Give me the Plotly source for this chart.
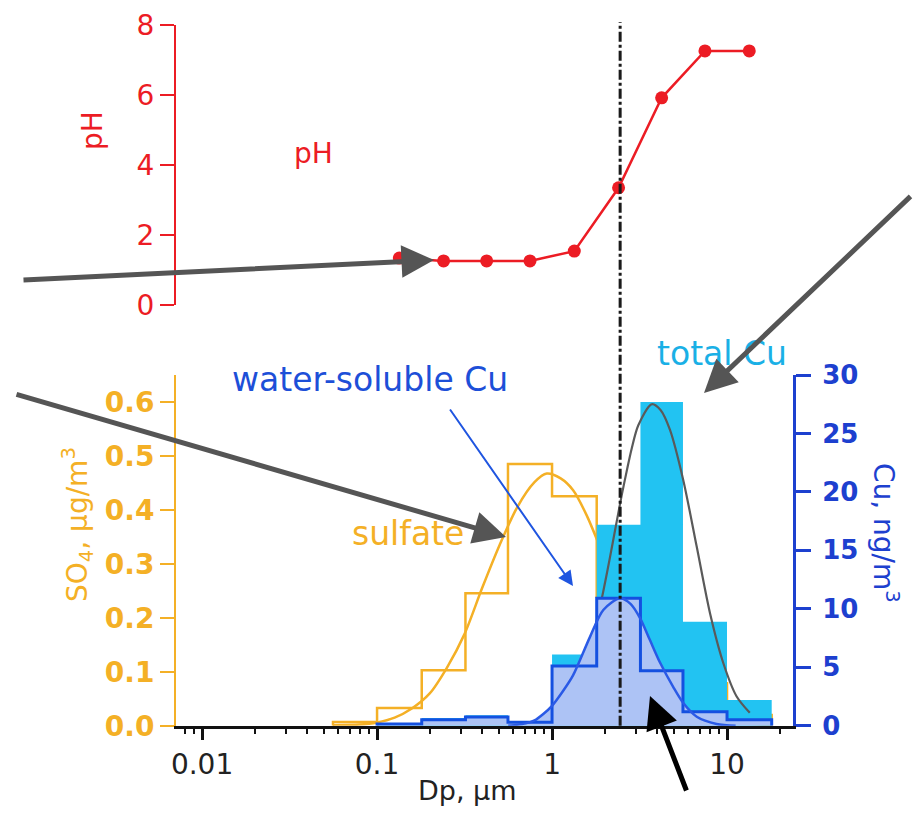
import plotly.graph_objects as go

W, H = 915, 813
FONT = "DejaVu Sans"

# ---------------- data ----------------
ph_dp = [0.134, 0.24, 0.423, 0.748, 1.34, 2.4, 4.23, 7.48, 13.4]
ph_val = [1.34, 1.26, 1.26, 1.26, 1.54, 3.35, 5.92, 7.26, 7.26]

stage_edges = [0.056, 0.1, 0.18, 0.32, 0.56, 1.0, 1.8, 3.2, 5.6, 10, 18]
sulfate = [0.007, 0.033, 0.103, 0.246, 0.486, 0.426, 0.24, 0.15, 0.079, 0.02]
total_cu = [0.0, 0.15, 0.65, 0.9, 0.35, 6.1, 17.2, 27.7, 8.9, 2.2]
ws_cu = [0.0, 0.15, 0.5, 0.75, 0.3, 5.1, 10.9, 4.7, 1.2, 0.5]

sulf_fit_dp = [0.056, 0.079, 0.1, 0.126, 0.158, 0.2, 0.251, 0.316, 0.398, 0.501,
               0.631, 0.794, 0.933, 1.12, 1.32, 1.58, 2.0, 2.51, 3.16, 3.98,
               5.01, 6.31, 7.94, 10.0, 12.6, 17.8]
sulf_fit = [0.001, 0.002, 0.006, 0.015, 0.032, 0.06, 0.108, 0.17, 0.255, 0.335,
            0.405, 0.452, 0.468, 0.459, 0.437, 0.39, 0.31, 0.233, 0.158, 0.101,
            0.06, 0.033, 0.017, 0.008, 0.004, 0.001]

ws_fit_dp = [0.562, 0.708, 0.794, 0.891, 1.0, 1.148, 1.318, 1.648, 1.963, 2.449,
             2.818, 3.184, 3.631, 4.14, 4.932, 5.623, 6.714, 8.71, 11.2]
ws_fit = [0.0, 0.2, 0.45, 1.0, 1.7, 2.9, 4.3, 7.6, 9.9, 10.9,
          10.4, 9.2, 7.3, 5.4, 3.3, 1.94, 0.77, 0.15, 0.0]

tot_fit_dp = [1.0, 1.259, 1.585, 1.841, 1.963, 2.143, 2.344, 2.5, 2.673, 2.851,
              3.112, 3.715, 4.169, 4.721, 5.623, 6.714, 8.0, 9.55, 11.35, 13.49]
tot_fit = [0.7, 2.3, 5.8, 9.6, 11.5, 14.4, 17.5, 19.7, 21.8, 23.7,
           25.7, 27.5, 27.0, 25.3, 21.0, 15.3, 9.6, 5.3, 2.5, 1.1]

split_dp = 2.45

x_tickvals = [0.01, 0.1, 1, 10]
x_ticktext = ["0.01", "0.1", "1", "10"]

# ---------------- colours ----------------
RED = "#ec1c24"
ORANGE = "#f4b026"
BLUE_AX = "#1d40cf"
BLUE = "#1450e0"
CYAN = "#22c3f2"
LIGHT = "#adc3f5"
GREY = "#5a5a5a"
CYAN_TXT = "#1ab0e6"


def steps(edges, vals):
    xs = [edges[0]] + list(edges)
    ys = [0] + list(vals) + [0]
    return xs, ys


fig = go.Figure()

# total Cu bars (filled steps)
sx, sy = steps(stage_edges[1:], total_cu[1:])
fig.add_trace(go.Scatter(x=sx, y=sy, mode="lines", line=dict(width=0, shape="hv"),
                         fill="tozeroy", fillcolor=CYAN, yaxis="y2", xaxis="x",
                         hoverinfo="skip"))
# sulfate steps
sx, sy = steps(stage_edges, sulfate)
fig.add_trace(go.Scatter(x=sx, y=sy, mode="lines", line=dict(color=ORANGE, width=2.5, shape="hv"),
                         xaxis="x", yaxis="y"))
# sulfate fit
fig.add_trace(go.Scatter(x=sulf_fit_dp, y=sulf_fit, mode="lines",
                         line=dict(color=ORANGE, width=2.5, shape="spline", smoothing=0.8),
                         xaxis="x", yaxis="y"))
# total Cu fit
fig.add_trace(go.Scatter(x=tot_fit_dp, y=tot_fit, mode="lines",
                         line=dict(color=GREY, width=2.2, shape="spline", smoothing=0.8),
                         xaxis="x", yaxis="y2"))
# water-soluble fills
sx, sy = steps(stage_edges[1:], ws_cu[1:])
fig.add_trace(go.Scatter(x=sx, y=sy, mode="lines", line=dict(width=0, shape="hv"),
                         fill="tozeroy", fillcolor=LIGHT, xaxis="x", yaxis="y2"))
fig.add_trace(go.Scatter(x=ws_fit_dp, y=ws_fit, mode="lines",
                         line=dict(width=0, shape="spline", smoothing=0.8),
                         fill="tozeroy", fillcolor=LIGHT, xaxis="x", yaxis="y2"))
# water-soluble steps
fig.add_trace(go.Scatter(x=sx, y=sy, mode="lines", line=dict(color=BLUE, width=3, shape="hv"),
                         xaxis="x", yaxis="y2"))
# water-soluble fit
fig.add_trace(go.Scatter(x=ws_fit_dp, y=ws_fit, mode="lines",
                         line=dict(color="#2a5ae6", width=2.5, shape="spline", smoothing=0.8),
                         xaxis="x", yaxis="y2"))
# pH
fig.add_trace(go.Scatter(x=ph_dp, y=ph_val, mode="lines+markers",
                         line=dict(color=RED, width=2.5),
                         marker=dict(color=RED, size=13),
                         xaxis="x2", yaxis="y3", cliponaxis=False))

xdom = [176 / W, 793 / W]
bot = [1 - 725.7 / H, 1 - 375 / H]
top = [1 - 305 / H, 1 - 25 / H]

minor_vals = [m * 10 ** e for e in range(-3, 2) for m in range(2, 10)]

fig.update_layout(
    width=W, height=H, margin=dict(l=0, r=0, t=0, b=0),
    paper_bgcolor="white", plot_bgcolor="white", showlegend=False,
    font=dict(family=FONT),
    xaxis=dict(domain=xdom, type="log", range=[-2.149, 1.377], anchor="y",
               showline=True, linecolor="#111", linewidth=2.5,
               ticks="outside", ticklen=12, tickwidth=2.5, tickcolor="#111",
               tickvals=x_tickvals, ticktext=x_ticktext,
               tickfont=dict(size=28, color="#222", family=FONT),
               minor=dict(tickmode="array", tickvals=minor_vals, ticks="outside",
                          ticklen=6, tickwidth=2, tickcolor="#111"),
               showgrid=False, zeroline=False, automargin=False),
    yaxis=dict(domain=bot, range=[0, 0.651], anchor="x",
               showline=True, linecolor=ORANGE, linewidth=2,
               ticks="outside", ticklen=14, tickwidth=2, tickcolor=ORANGE,
               tickvals=[0, 0.1, 0.2, 0.3, 0.4, 0.5, 0.6], tickformat=".1f",
               tickfont=dict(size=28, color=ORANGE, family=FONT, weight="bold"),
               showgrid=False, zeroline=False, automargin=False),
    yaxis2=dict(range=[0, 30], overlaying="y", side="right", anchor="x",
                showline=True, linecolor=BLUE_AX, linewidth=3,
                ticks="outside", ticklen=15, tickwidth=2.5, tickcolor=BLUE_AX,
                tickvals=[0, 5, 10, 15, 20, 25, 30], ticklabelstandoff=6,
                tickfont=dict(size=26, color=BLUE_AX, family=FONT, weight="bold"),
                showgrid=False, zeroline=False, automargin=False),
    xaxis2=dict(domain=xdom, type="log", matches="x", anchor="y3", visible=False),
    yaxis3=dict(domain=top, range=[0, 8], anchor="x2",
                showline=True, linecolor=RED, linewidth=2,
                ticks="outside", ticklen=14, tickwidth=2, tickcolor=RED,
                tickvals=[0, 2, 4, 6, 8],
                tickfont=dict(size=28, color=RED, family=FONT),
                showgrid=False, zeroline=False, automargin=False),
)

# vertical split line
fig.add_shape(type="line", xref="x", yref="paper", x0=split_dp, x1=split_dp,
              y0=1 - 725.7 / H, y1=1 - 22 / H,
              line=dict(color="#1a1a1a", width=3, dash="10px,3px,3px,3px"))


def P(x, y):
    return x / W, 1 - y / H


def label(text, x, y, color, size, angle=0):
    px, py = P(x, y)
    fig.add_annotation(x=px, y=py, xref="paper", yref="paper", text=text,
                       showarrow=False, textangle=angle, xanchor="center", yanchor="middle",
                       font=dict(family=FONT, size=size, color=color))


def arrow(tail, head, color, width, size):
    hx, hy = P(*head)
    fig.add_annotation(x=hx, y=hy, xref="paper", yref="paper", text="",
                       showarrow=True, ax=tail[0] - head[0], ay=tail[1] - head[1],
                       axref="pixel", ayref="pixel", arrowhead=2, arrowsize=size,
                       arrowwidth=width, arrowcolor=color, standoff=0)


label("pH", 92, 131, RED, 28, -90)
label("pH", 313, 153, RED, 28)
label("SO<sub>4</sub>, µg/m<sup>3</sup>", 77, 525, ORANGE, 28, -90)
label("Cu, ng/m<sup>3</sup>", 886, 533, BLUE_AX, 28, 90)
label("Dp, µm", 468, 790, "#222", 27)
label("water-soluble Cu", 370, 379, "#1d4fd8", 33)
label("total Cu", 722, 353, CYAN_TXT, 33)
label("sulfate", 408, 533, ORANGE, 33)

arrow((22, 280), (434, 260), "#555555", 5, 1.3)
arrow((912, 195), (704, 393), "#555555", 5, 1.3)
arrow((15, 394), (506, 537), "#555555", 5, 1.3)
arrow((449, 408), (573, 586), "#1f55e0", 2, 1.5)
arrow((687, 792), (650, 696), "#000000", 5, 1.3)

fig.write_html("out.html")
